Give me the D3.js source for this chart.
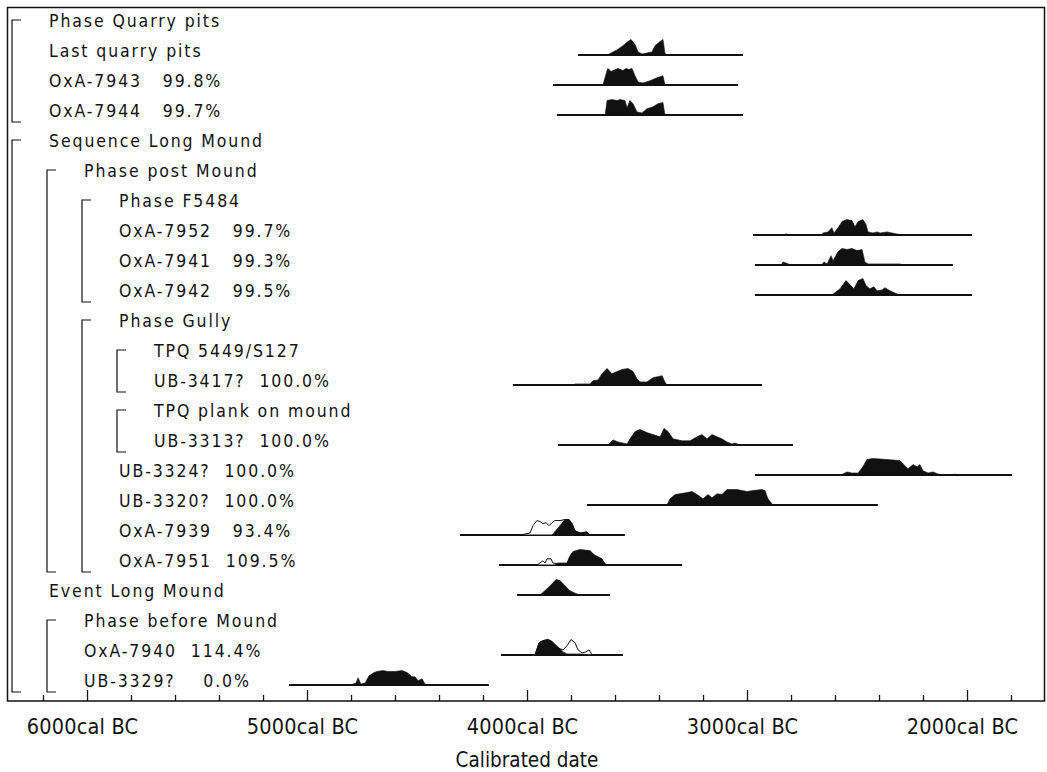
<!DOCTYPE html>
<html>
<head>
<meta charset="utf-8">
<script src="https://cdn.jsdelivr.net/npm/d3@7"></script>
<style>
  body { margin: 0; background: #fff; }
  svg text { font-family: "Liberation Sans Narrow", "DejaVu Sans Condensed", "Liberation Sans", sans-serif; fill: #111; }
</style>
</head>
<body>
<div id="chart"></div>
<script>
// Rows of the plot, top to bottom
const names = ["Phase Quarry pits", "Last quarry pits", "OxA-7943", "OxA-7944", "Sequence Long Mound",
  "Phase post Mound", "Phase F5484", "OxA-7952", "OxA-7941", "OxA-7942", "Phase Gully",
  "TPQ 5449/S127", "UB-3417?", "TPQ plank on mound", "UB-3313?", "UB-3324?", "UB-3320?",
  "OxA-7939", "OxA-7951", "Event Long Mound", "Phase before Mound", "OxA-7940", "UB-3329?"];
const depth = [0, 0, 0, 0, 0, 1, 2, 2, 2, 2, 2, 3, 3, 3, 3, 2, 2, 2, 2, 0, 1, 1, 1];
const agreement = [null, null, 99.8, 99.7, null, null, null, 99.7, 99.3, 99.5, null,
  null, 100.0, null, 100.0, 100.0, 100.0, 93.4, 109.5, null, null, 114.4, 0.0];

// Brackets: [depth, first row, last row]
const groups = [[0, 0, 3], [0, 4, 22], [1, 5, 18], [2, 6, 9], [2, 10, 18], [3, 11, 12], [3, 13, 14], [1, 20, 22]];

// Range lines, cal BC [from, to]
const ranges = [null, [3768, 3018], [3882, 3041], [3864, 3018], null, null, null,
  [2973, 1977], [2964, 2064], [2964, 1977], null, null, [4064, 2932], null, [3859, 2791],
  [2964, 1795], [3727, 2405], [4305, 3555], [4127, 3295], [4045, 3623], null, [4118, 3564], [5082, 4173]];

// Distributions: [cal BC, relative probability]
const lastQuarry = [[3636,0],[3591,0.33],[3564,0.6],[3541,0.87],[3527,1],[3509,0.67],[3495,0.2],[3477,0.07],[3455,0.13],[3432,0.2],[3418,0.6],[3395,0.87],[3382,1],[3373,0.13],[3368,0]];
const oxa7943 = [[3655,0],[3636,0.93],[3632,1.07],[3618,0.87],[3609,0.93],[3586,1.07],[3564,0.93],[3550,1.07],[3536,1],[3523,1.07],[3509,0.6],[3495,0.2],[3473,0.13],[3441,0.27],[3409,0.47],[3382,0.6],[3373,0]];
const oxa7944 = [[3645,0],[3636,0.93],[3614,1],[3591,0.93],[3577,1],[3555,0.93],[3545,0.47],[3532,0.93],[3518,0.73],[3500,0.2],[3477,0.13],[3455,0.4],[3427,0.53],[3405,0.73],[3382,0.8],[3373,0]];
const oxa7952 = [[2832,0],[2822,0.08],[2812,0],[2659,0],[2655,0.13],[2632,0.2],[2614,0.47],[2605,0.13],[2586,0.47],[2568,0.87],[2545,1],[2523,0.93],[2509,0.53],[2495,0.87],[2473,1],[2459,0.67],[2450,0.2],[2427,0.13],[2409,0.2],[2395,0.13],[2364,0.2],[2341,0.13],[2295,0]];
const oxa7941 = [[2845,0],[2836,0.2],[2818,0.1],[2805,0.03],[2659,0.03],[2650,0.2],[2636,0.07],[2618,0.6],[2609,0.27],[2586,0.87],[2568,1.07],[2545,1],[2523,1.07],[2500,0.93],[2477,1],[2464,0.2],[2450,0.07],[2305,0.07],[2291,0]];
const oxa7942 = [[2614,0],[2577,0.4],[2550,0.93],[2532,0.67],[2514,0.4],[2495,0.93],[2473,1.07],[2459,0.6],[2441,0.4],[2423,0.53],[2409,0.27],[2386,0.33],[2373,0.47],[2350,0.27],[2318,0.07],[2305,0]];
const ub3417 = [[3782,0],[3782,0.07],[3714,0.07],[3700,0.27],[3677,0.33],[3659,0.73],[3636,1.07],[3614,0.73],[3591,0.87],[3568,1],[3541,1.07],[3518,0.87],[3500,0.4],[3486,0.2],[3455,0.2],[3427,0.47],[3386,0.6],[3373,0.2],[3364,0]];
const ub3313 = [[3632,0],[3609,0.33],[3586,0.2],[3545,0.07],[3532,0.4],[3509,0.87],[3486,1],[3455,0.8],[3427,0.67],[3395,0.53],[3377,1.07],[3359,0.87],[3336,0.4],[3295,0.27],[3259,0.27],[3227,0.53],[3205,0.67],[3182,0.4],[3159,0.67],[3136,0.53],[3114,0.4],[3091,0.2],[3068,0.07],[3055,0.13],[3032,0]];
const ub3324 = [[2570,0],[2564,0.07],[2545,0.2],[2523,0.13],[2495,0.13],[2473,0.53],[2455,1],[2427,1.07],[2364,1],[2305,0.93],[2282,0.6],[2268,0.4],[2245,0.67],[2227,0.53],[2214,0.67],[2200,0.27],[2177,0.13],[2155,0.2],[2132,0.07],[2114,0],[2064,0],[2055,0.06],[2045,0]];
const ub3320 = [[3364,0],[3350,0.4],[3327,0.67],[3305,0.73],[3273,0.8],[3250,0.87],[3227,0.67],[3200,0.4],[3177,0.67],[3159,0.47],[3136,0.73],[3114,0.67],[3091,1],[3045,1],[3000,0.87],[2973,0.93],[2932,1],[2918,0.93],[2905,0.4],[2882,0]];
const oxa7939 = [[3886,0],[3827,1],[3809,1],[3795,0.73],[3782,0.27],[3759,0.13],[3727,0.2],[3714,0]];
const oxa7939Prior = [[4032,0],[3986,0.13],[3973,0.6],[3955,0.93],[3941,0.87],[3927,0.73],[3914,0.8],[3900,0.6],[3886,0.8],[3873,0.93],[3850,0.93],[3827,1],[3809,1],[3795,0.73],[3782,0.27],[3759,0.13],[3727,0.2],[3714,0]];
const oxa7951 = [[3873,0],[3859,0.13],[3818,0.13],[3805,0.6],[3791,0.87],[3759,1],[3714,0.93],[3695,0.67],[3677,0.53],[3659,0.4],[3645,0.07],[3636,0]];
const oxa7951Prior = [[3955,0],[3941,0.13],[3927,0.27],[3918,0.13],[3909,0.4],[3891,0.4],[3882,0.13],[3868,0.1],[3850,0.1],[3818,0.1],[3805,0.5],[3791,0.8],[3759,0.9],[3714,0.85],[3695,0.6],[3677,0.45],[3659,0.35],[3645,0.05],[3636,0]];
const eventLongMound = [[3941,0],[3909,0.4],[3886,0.73],[3868,1],[3850,0.93],[3827,0.6],[3805,0.27],[3773,0.07],[3759,0]];
const oxa7940 = [[3964,0],[3945,0.8],[3927,0.93],[3905,1],[3886,0.87],[3877,0.73],[3864,0.6],[3850,0.4],[3836,0.2],[3818,0.07],[3791,0.07],[3759,0.07],[3705,0]];
const oxa7940Prior = [[3964,0],[3945,0.8],[3927,0.93],[3905,1],[3886,0.87],[3877,0.73],[3864,0.47],[3836,0.33],[3818,0.6],[3800,1],[3782,0.8],[3768,0.33],[3750,0.13],[3732,0.2],[3718,0.33],[3709,0.13],[3705,0]];
const ub3329 = [[4805,0],[4777,0.13],[4768,0.47],[4755,0.07],[4736,0.13],[4718,0.6],[4695,0.8],[4682,0.87],[4655,0.93],[4632,0.87],[4600,0.87],[4568,0.93],[4545,0.8],[4523,0.53],[4509,0.53],[4495,0.27],[4477,0.4],[4464,0.07],[4450,0]];

const posteriors = {1: lastQuarry, 2: oxa7943, 3: oxa7944, 7: oxa7952, 8: oxa7941, 9: oxa7942,
  12: ub3417, 14: ub3313, 15: ub3324, 16: ub3320, 17: oxa7939, 18: oxa7951, 19: eventLongMound,
  21: oxa7940, 22: ub3329};
const priors = {17: oxa7939Prior, 18: oxa7951Prior, 21: oxa7940Prior};

const majorTicks = [6000, 5000, 4000, 3000, 2000];
const minorTicks = [6200, 5800, 5600, 5400, 5200, 4800, 4600, 4400, 4200, 3800, 3600, 3400, 3200,
  2800, 2600, 2400, 2200, 1800];

// Dimensions
const width = 1047, height = 772;
const frameLeft = 7.5, frameRight = 1044.5, frameTop = 7.5, axisY = 701;

const svg = d3.select("#chart").append("svg")
  .attr("width", width)
  .attr("height", height);

const x = d3.scaleLinear().domain([6000, 2000]).range([87, 967]);
const y = d3.scaleLinear().domain([0, 22]).range([25, 685]);
const h = d3.scaleLinear().domain([0, 1]).range([0, 15.5]);

// Frame
svg.append("rect")
  .attr("x", frameLeft).attr("y", frameTop)
  .attr("width", frameRight - frameLeft).attr("height", axisY - frameTop)
  .attr("fill", "none").attr("stroke", "#111").attr("stroke-width", 1.5);

// Axis
const axisG = svg.append("g").attr("transform", `translate(0,${axisY})`);
axisG.append("g")
  .call(d3.axisBottom(x).tickValues(minorTicks).tickSizeInner(-6).tickSizeOuter(0).tickFormat(""))
  .call(g => g.select(".domain").remove());
axisG.append("g")
  .call(d3.axisBottom(x).tickValues(majorTicks).tickSizeInner(-11).tickSizeOuter(0)
    .tickPadding(18).tickFormat(d => d + "cal BC"))
  .call(g => g.select(".domain").remove())
  .attr("font-size", 21.5)
  .selectAll("text").attr("letter-spacing", 0.2).attr("dx", -5);
axisG.selectAll(".tick line").attr("stroke", "#111").attr("stroke-width", 1.3);

svg.append("text")
  .attr("x", 527).attr("y", 767)
  .attr("text-anchor", "middle")
  .attr("font-size", 20.5)
  .attr("letter-spacing", 0)
  .text("Calibrated date");

// Brackets
const bracket = svg.append("g").attr("stroke", "#111").attr("stroke-width", 1.2).attr("fill", "none");
groups.forEach(([lv, a, b]) => {
  const bx = 12 + 35 * lv;
  const y0 = y(a) - 5, y1 = Math.min(y(b) + 7, axisY - 9);
  bracket.append("path").attr("d", `M${bx + 9},${y0}H${bx}V${y1}H${bx + 9}`);
});

// Labels
svg.append("g").selectAll("text")
  .data(names)
  .join("text")
  .attr("x", (d, i) => 49 + 35 * depth[i])
  .attr("y", (d, i) => y(i) + 2)
  .attr("font-size", 17.5)
  .attr("letter-spacing", 1.9)
  .style("white-space", "pre")
  .text((d, i) => agreement[i] === null ? d : d + "  " + (agreement[i].toFixed(1) + "%").padStart(6));

// Ranges and distributions
const area = d3.area()
  .x(d => x(d[0]))
  .y0(0)
  .y1(d => -h(d[1]));

const rows = svg.append("g");
names.forEach((n, i) => {
  const g = rows.append("g").attr("transform", `translate(0,${y(i)})`);
  if (ranges[i]) {
    g.append("line")
      .attr("x1", x(ranges[i][0])).attr("x2", x(ranges[i][1]))
      .attr("stroke", "#111").attr("stroke-width", 2);
  }
  if (priors[i]) {
    g.append("path").attr("d", area(priors[i]))
      .attr("fill", "#fff").attr("stroke", "#111").attr("stroke-width", 1);
  }
  if (posteriors[i]) {
    g.append("path").attr("d", area(posteriors[i]))
      .attr("fill", "#111").attr("stroke", "#111").attr("stroke-width", 0.6);
  }
});
</script>
</body>
</html>
